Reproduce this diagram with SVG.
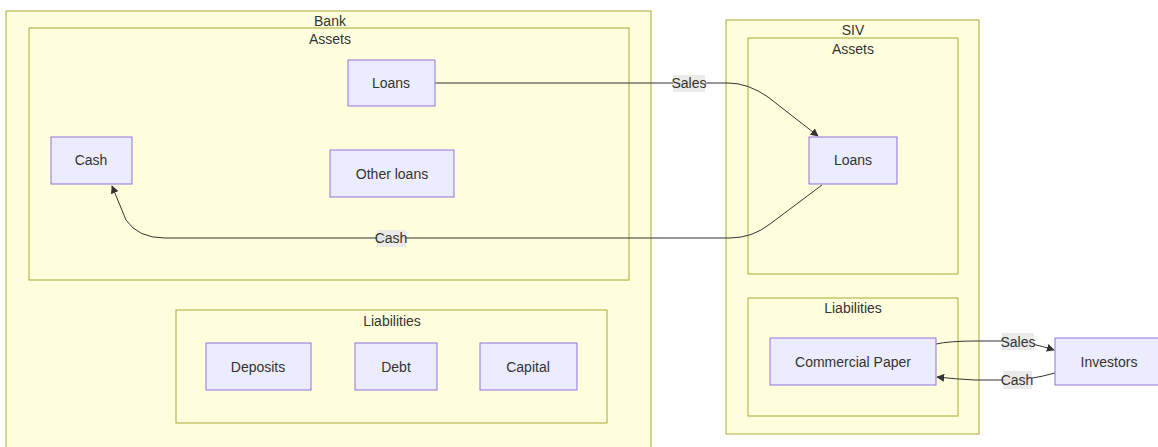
<svg xmlns="http://www.w3.org/2000/svg" width="1158" height="447" viewBox="0 0 1158 447">
<style>
.cl{fill:#ffffde;stroke:#aaaa33;stroke-width:1}
.nd{fill:#ececff;stroke:#9370db;stroke-width:1}
text{font-family:"Liberation Sans",Arial,sans-serif;font-size:14px;fill:#333;text-anchor:middle;dominant-baseline:central}
.e{fill:none;stroke:#333;stroke-width:1}
.lb{fill:#e8e8e8;opacity:0.9}
</style>
<defs>
<marker id="ah" viewBox="0 0 10 10" refX="9" refY="5" markerWidth="8" markerHeight="8" orient="auto-start-reverse" markerUnits="userSpaceOnUse">
<path d="M0,0 L10,5 L0,10 z" fill="#333"/>
</marker>
</defs>
<rect width="1158" height="447" fill="#fff"/>
<g id="bank">
<rect class="cl" x="6" y="11" width="645" height="445"/>
<text x="330" y="21">Bank</text>
</g>
<g id="bank-assets">
<rect class="cl" x="29" y="28" width="600" height="252"/>
<text x="330" y="39">Assets</text>
</g>
<g id="bank-liabilities">
<rect class="cl" x="176" y="310" width="431" height="113"/>
<text x="392" y="321">Liabilities</text>
</g>
<g id="siv">
<rect class="cl" x="726" y="20" width="253" height="414"/>
<text x="853" y="30">SIV</text>
</g>
<g id="siv-assets">
<rect class="cl" x="748" y="38" width="210" height="236"/>
<text x="853" y="49">Assets</text>
</g>
<g id="siv-liabilities">
<rect class="cl" x="748" y="298" width="210" height="118"/>
<text x="853" y="308">Liabilities</text>
</g>
<g id="connectors">
<path class="e" d="M435,83 L728,83 Q748,83 768,97 L818,136" marker-end="url(#ah)"/>
<path class="e" d="M822,185 L770,224 Q752,238 730,238 L165,238 Q138,238 126,220 L112,186" marker-end="url(#ah)"/>
<path class="e" d="M936,344 Q950,341 975,341 L1010,341 Q1030,342 1054,350" marker-end="url(#ah)"/>
<path class="e" d="M1055,373 Q1030,380 1010,380 L975,380 Q955,379 937,377" marker-end="url(#ah)"/>
<rect class="lb" x="673" y="75" width="32" height="17"/>
<text x="689" y="83">Sales</text>
<rect class="lb" x="377" y="230" width="29" height="17"/>
<text x="391" y="238">Cash</text>
<rect class="lb" x="1002" y="333" width="32" height="17"/>
<text x="1018" y="342">Sales</text>
<rect class="lb" x="1003" y="371" width="29" height="18"/>
<text x="1017" y="380">Cash</text>
</g>
<g id="loans"><rect class="nd" x="348" y="60" width="87" height="46"/><text x="391" y="83">Loans</text></g>
<g id="otherloans"><rect class="nd" x="330" y="150" width="124" height="47"/><text x="392" y="174">Other loans</text></g>
<g id="cash"><rect class="nd" x="51" y="137" width="81" height="47"/><text x="91" y="160">Cash</text></g>
<g id="deposits"><rect class="nd" x="206" y="343" width="105" height="47"/><text x="258" y="367">Deposits</text></g>
<g id="debt"><rect class="nd" x="355" y="343" width="82" height="47"/><text x="396" y="367">Debt</text></g>
<g id="capital"><rect class="nd" x="480" y="343" width="97" height="47"/><text x="528" y="367">Capital</text></g>
<g id="siv-loans"><rect class="nd" x="809" y="137" width="88" height="47"/><text x="853" y="160">Loans</text></g>
<g id="cp"><rect class="nd" x="770" y="338" width="166" height="47"/><text x="853" y="362">Commercial Paper</text></g>
<g id="investors"><rect class="nd" x="1055" y="338" width="110" height="47"/><text x="1109" y="362">Investors</text></g>
</svg>
